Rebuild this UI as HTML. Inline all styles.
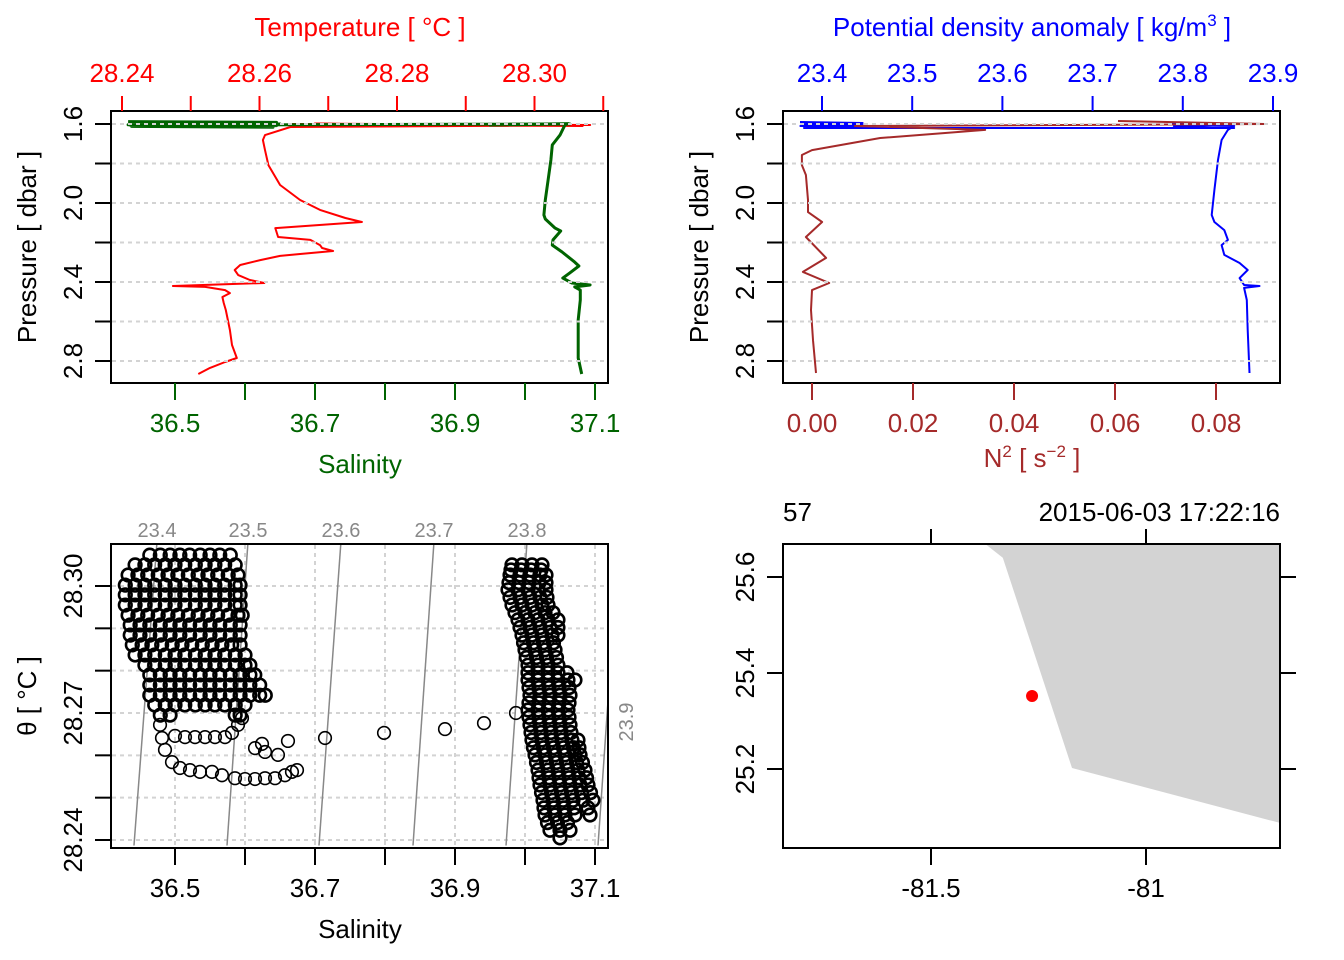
<!DOCTYPE html>
<html><head><meta charset="utf-8"><style>
html,body{margin:0;padding:0;background:#fff;}
svg{display:block;font-family:"Liberation Sans",sans-serif;}
</style></head><body>
<svg id="fig" width="1344" height="960" viewBox="0 0 1344 960" xmlns="http://www.w3.org/2000/svg"></svg>
<script>
// ---------- DATA ----------
const salTicks=[36.5,36.6,36.7,36.8,36.9,37.0,37.1];
const salLabels=["36.5","","36.7","","36.9","","37.1"];
const tempTicks=[28.24,28.25,28.26,28.27,28.28,28.29,28.30,28.31];
const tempLabels=["28.24","","28.26","","28.28","","28.30",""];
const presTicks=[1.6,1.8,2.0,2.2,2.4,2.6,2.8];
const presLabels=["1.6","","2.0","","2.4","","2.8"];
const sigTicks=[23.4,23.5,23.6,23.7,23.8,23.9];
const sigLabels=["23.4","23.5","23.6","23.7","23.8","23.9"];
const n2Ticks=[0,0.02,0.04,0.06,0.08];
const n2Labels=["0.00","0.02","0.04","0.06","0.08"];
const thetaTicks=[28.24,28.25,28.26,28.27,28.28,28.29,28.30];
const thetaLabels=["28.24","","","28.27","","","28.30"];
const lonTicks=[-81.5,-81];
const lonLabels=["-81.5","-81"];
const latTicks=[25.2,25.4,25.6];
const latLabels=["25.2","25.4","25.6"];

const tempT=[28.2645,28.3081,28.268,28.307,28.265,28.305,28.2645,28.2608,28.2605,28.2608,28.2613,28.2630,28.2659,28.2688,28.2725,28.2749,28.2623,28.2627,28.2674,28.2688,28.2691,28.2707,28.2659,28.2630,28.2601,28.2572,28.2564,28.2569,28.2586,28.2607,28.2474,28.2521,28.2550,28.2557,28.2546,28.2548,28.2551,28.2557,28.2560,28.2567,28.2550,28.2528,28.2511];
const tempP=[1.600,1.605,1.598,1.610,1.603,1.607,1.615,1.656,1.681,1.732,1.808,1.909,1.985,2.035,2.076,2.096,2.127,2.172,2.187,2.213,2.228,2.243,2.258,2.268,2.289,2.314,2.339,2.365,2.390,2.405,2.420,2.425,2.441,2.456,2.476,2.506,2.542,2.643,2.719,2.785,2.805,2.835,2.866];
const salS=[36.433,36.645,36.436,36.650,36.433,36.645,36.438,36.640,36.436,37.064,36.95,37.062,37.057,37.050,37.039,37.037,37.033,37.029,37.027,37.029,37.043,37.051,37.040,37.039,37.053,37.071,37.077,37.064,37.054,37.067,37.093,37.071,37.079,37.079,37.076,37.076,37.076,37.081];
const salP=[1.588,1.592,1.596,1.600,1.604,1.608,1.612,1.616,1.606,1.600,1.605,1.598,1.605,1.656,1.706,1.782,1.884,1.985,2.061,2.081,2.127,2.142,2.187,2.213,2.248,2.299,2.319,2.354,2.380,2.405,2.415,2.425,2.441,2.491,2.592,2.694,2.785,2.866];
const sigma=[23.3756,23.445,23.378,23.445,23.376,23.440,23.380,23.857,23.79,23.855,23.785,23.857,23.850,23.843,23.839,23.835,23.832,23.835,23.846,23.850,23.843,23.846,23.863,23.872,23.863,23.868,23.885,23.868,23.871,23.872,23.874];
const sigmaP=[1.590,1.595,1.600,1.605,1.610,1.615,1.620,1.620,1.610,1.600,1.595,1.610,1.630,1.681,1.782,1.934,2.061,2.096,2.137,2.187,2.213,2.263,2.304,2.339,2.380,2.415,2.420,2.430,2.491,2.643,2.861];
const n2=[0.0606,0.0897,0.0085,0.0343,0.0135,0.0,-0.002,-0.002,-0.0012,-0.0008,-0.0008,0.002,-0.0012,0.0028,-0.0018,0.0034,0.0,-0.0002,0.0002,0.0008];
const n2P=[1.585,1.600,1.610,1.630,1.671,1.732,1.757,1.808,1.858,1.985,2.046,2.096,2.172,2.278,2.349,2.405,2.441,2.542,2.694,2.861];

const blobT=[28.3073,28.3050,28.3026,28.3002,28.2979,28.2955,28.2931,28.2908,28.2884,28.2861,28.2837,28.2813,28.2790,28.2766,28.2742,28.2719,28.2695];
const blobS=[
[36.464,36.479,36.493,36.507,36.521,36.536,36.550,36.564,36.579],
[36.443,36.457,36.471,36.486,36.500,36.514,36.529,36.543,36.557,36.571,36.586],
[36.433,36.447,36.461,36.476,36.490,36.504,36.519,36.533,36.547,36.561,36.576,36.590],
[36.429,36.443,36.457,36.471,36.486,36.500,36.514,36.529,36.543,36.557,36.571,36.586,36.593],
[36.429,36.443,36.457,36.471,36.486,36.500,36.514,36.529,36.543,36.557,36.571,36.586,36.593],
[36.429,36.443,36.457,36.471,36.486,36.500,36.514,36.529,36.543,36.557,36.571,36.586,36.593],
[36.433,36.447,36.461,36.476,36.490,36.504,36.519,36.533,36.547,36.561,36.576,36.590,36.596],
[36.436,36.450,36.464,36.479,36.493,36.507,36.521,36.536,36.550,36.564,36.579,36.593],
[36.436,36.450,36.464,36.479,36.493,36.507,36.521,36.536,36.550,36.564,36.579,36.593],
[36.439,36.453,36.467,36.481,36.496,36.510,36.524,36.539,36.553,36.567,36.581,36.593],
[36.443,36.457,36.471,36.486,36.500,36.514,36.529,36.543,36.557,36.571,36.586,36.600],
[36.457,36.471,36.486,36.500,36.514,36.529,36.543,36.557,36.571,36.586,36.600,36.607],
[36.464,36.479,36.493,36.507,36.521,36.536,36.550,36.564,36.579,36.593,36.607,36.614],
[36.464,36.479,36.493,36.507,36.521,36.536,36.550,36.564,36.579,36.593,36.607,36.621],
[36.464,36.479,36.493,36.507,36.521,36.536,36.550,36.564,36.579,36.593,36.607,36.621,36.629],
[36.471,36.486,36.500,36.514,36.529,36.543,36.557,36.571,36.586,36.600],
[36.479,36.493,36.586,36.593]];
const trailS=[36.4786,36.4814,36.4857,36.4957,36.5071,36.5214,36.5357,36.5529,36.5671,36.5857,36.6000,36.6143,36.6286,36.6429,36.6571,36.6671,36.6743,36.5000,36.5143,36.5286,36.5429,36.5571,36.5714,36.5814,36.5900,36.5957,36.6143,36.6243,36.6286,36.6471,36.6614,36.7143,36.7986,36.8857,36.9414,36.9871];
const trailT=[28.2672,28.2641,28.2613,28.2584,28.2570,28.2565,28.2561,28.2561,28.2553,28.2546,28.2544,28.2544,28.2546,28.2546,28.2553,28.2561,28.2565,28.2646,28.2643,28.2643,28.2643,28.2643,28.2643,28.2653,28.2672,28.2688,28.2617,28.2627,28.2608,28.2601,28.2634,28.2641,28.2653,28.2662,28.2676,28.2700];
const stripT=[28.3050,28.3026,28.2991,28.2955,28.2920,28.2884,28.2849,28.2813,28.2778,28.2742,28.2707,28.2672,28.2636,28.2601,28.2565,28.2530,28.2494,28.2459,28.2423,28.2405];
const stripS=[
[36.9814,36.9957,37.0100,37.0243],
[36.9786,36.9929,37.0071,37.0214,37.0300],
[36.9757,36.9900,37.0043,37.0186,37.0300],
[36.9814,36.9957,37.0100,37.0243,37.0329],
[36.9900,37.0043,37.0186,37.0329,37.0471],
[36.9957,37.0100,37.0243,37.0386,37.0471],
[37.0000,37.0143,37.0286,37.0429],
[37.0043,37.0186,37.0329,37.0471],
[37.0043,37.0186,37.0329,37.0471,37.0614,37.0714],
[37.0071,37.0214,37.0357,37.0500,37.0643],
[37.0043,37.0186,37.0329,37.0471,37.0614],
[37.0071,37.0214,37.0357,37.0500,37.0643],
[37.0100,37.0243,37.0386,37.0529,37.0671,37.0757],
[37.0143,37.0286,37.0429,37.0571,37.0714,37.0786],
[37.0186,37.0329,37.0471,37.0614,37.0757,37.0857],
[37.0214,37.0357,37.0500,37.0643,37.0786,37.0900],
[37.0257,37.0400,37.0543,37.0686,37.0829,37.0971],
[37.0286,37.0429,37.0571,37.0714,37.0929],
[37.0357,37.0500,37.0643],
[37.0500]];
const stripMidT=[28.3038,28.3008,28.2973,28.2937,28.2902,28.2866,28.2831,28.2795,28.2760,28.2724,28.2690,28.2654,28.2618,28.2583,28.2547,28.2512,28.2476,28.2441];
const stripMidS=[
[36.9800,36.9943,37.0086,37.0229],
[36.9771,36.9914,37.0057,37.0200,37.0300],
[36.9786,36.9929,37.0071,37.0214,37.0314],
[36.9857,37.0000,37.0143,37.0286,37.0400],
[36.9929,37.0071,37.0214,37.0357,37.0471],
[36.9979,37.0121,37.0264,37.0407],
[37.0021,37.0164,37.0307,37.0450],
[37.0043,37.0186,37.0329,37.0471,37.0600],
[37.0057,37.0200,37.0343,37.0486,37.0629],
[37.0057,37.0200,37.0343,37.0486,37.0629],
[37.0057,37.0200,37.0343,37.0486,37.0629],
[37.0086,37.0229,37.0371,37.0514,37.0657],
[37.0121,37.0264,37.0407,37.0550,37.0693,37.0771],
[37.0164,37.0307,37.0450,37.0593,37.0736,37.0821],
[37.0200,37.0343,37.0486,37.0629,37.0771,37.0879],
[37.0236,37.0379,37.0521,37.0664,37.0807,37.0936],
[37.0271,37.0414,37.0557,37.0700,37.0900],
[37.0321,37.0464,37.0607]];
const isoSigma=["23.4","23.5","23.6","23.7","23.8","23.9"];
const isoSTop=[36.4743,36.6043,36.7371,36.8700,37.0029,37.1343];
const isoSBottom=[36.4414,36.5743,36.7057,36.8400,36.9729,37.1043];

const landLon=[-81.374,-81.333,-81.172,-80.688,-80.688];
const landLat=[25.669,25.640,25.202,25.0875,25.669];
const stationLon=[-81.265];
const stationLat=[25.352];

// ---------- HELPERS ----------
const NS="http://www.w3.org/2000/svg";
const svg=document.getElementById('fig');
const FS=26;
function mk(tag,attrs,parent){const e=document.createElementNS(NS,tag);for(const k in attrs)e.setAttribute(k,attrs[k]);(parent||svg).appendChild(e);return e;}
function lin(d0,d1,r0,r1){return v=>r0+(v-d0)*(r1-r0)/(d1-d0);}
function txt(x,y,s,o,parent){const t=mk('text',Object.assign({x:x,y:y,'font-size':FS,'text-anchor':'middle',fill:'#000'},o||{}),parent);t.textContent=s;return t;}
function clip(id,x,y,w,h){const d=mk('defs',{});const c=mk('clipPath',{id:id},d);mk('rect',{x:x,y:y,width:w,height:h},c);}

const sx=lin(36.5,36.7,175,315);
const tx=lin(28.24,28.26,122,259.5);
const py=lin(1.6,2.8,124,361);
const gx=lin(23.4,23.9,822,1273);
const nx=lin(0,0.08,812,1216);
const thy=lin(28.30,28.27,586,713);
const lonx=lin(-81.5,-81,931,1146);
const laty=lin(25.6,25.4,577,673);

function hgrid(g,x0,x1,ys){ys.forEach(y=>{const l=mk('line',{x1:x0,x2:x1,y1:y,y2:y,stroke:'#d3d3d3','stroke-width':2,'stroke-dasharray':'4,4'},g);});}
function vgrid(g,y0,y1,xs){xs.forEach(x=>{const l=mk('line',{x1:x,x2:x,y1:y0,y2:y1,stroke:'#d3d3d3','stroke-width':2,'stroke-dasharray':'4,4'},g);});}
function path(g,xs,ys,col,name,clipId){let d='';for(let i=0;i<xs.length;i++)d+=(i?'L':'M')+xs[i].toFixed(1)+','+ys[i].toFixed(1);const p=mk('path',{d:d,fill:'none',stroke:col,'stroke-width':2,'stroke-linejoin':'round','clip-path':'url(#'+clipId+')'},g);return p;}
function bottomAxis(g,vals,labels,f,y,col,name){const a=mk('g',{},g);vals.forEach((v,i)=>{const x=f(v);mk('line',{x1:x,x2:x,y1:y,y2:y+17,stroke:col,'stroke-width':2},a);if(labels[i])txt(x,y+49,labels[i],{fill:col},a);});}
function topAxis(g,vals,labels,f,y,col,name){const a=mk('g',{},g);vals.forEach((v,i)=>{const x=f(v);mk('line',{x1:x,x2:x,y1:y,y2:y-15,stroke:col,'stroke-width':2},a);if(labels[i])txt(x,y-29,labels[i],{fill:col},a);});}
function leftAxis(g,vals,labels,f,x,name){const a=mk('g',{},g);vals.forEach((v,i)=>{const y=f(v);mk('line',{x1:x,x2:x-16,y1:y,y2:y,stroke:'#000','stroke-width':2},a);if(labels[i])txt(x-29,y,labels[i],{transform:'rotate(-90 '+(x-29)+' '+y+')'},a);});}
function box(g,x,y,w,h){const r=mk('rect',{x:x,y:y,width:w,height:h,fill:'none',stroke:'#000','stroke-width':2},g);}

clip('c1',112,112,495,270);clip('c2',784,112,495,270);clip('c3',112,545,495,302);clip('c4',784,545,495,302);

// ---------- PANEL 1 ----------
const g1=mk('g',{});
path(g1,tempT.map(tx),tempP.map(py),'#ff0000','temperature-profile','c1');
const sp=path(g1,salS.map(sx),salP.map(py),'#006400','salinity-profile','c1');sp.setAttribute('stroke-width',3);
hgrid(g1,112,607,presTicks.map(py));
box(g1,111,111,497,272);
topAxis(g1,tempTicks,tempLabels,tx,111,'#ff0000','temperature-axis');
bottomAxis(g1,salTicks,salLabels,sx,383,'#006400','salinity-axis');
leftAxis(g1,presTicks,presLabels,py,111,'pressure-axis');
let t;
t=txt(360,36,'Temperature [ °C ]',{fill:'#ff0000'},g1);
t=txt(360,473,'Salinity',{fill:'#006400'},g1);
t=txt(36,247,'Pressure [ dbar ]',{transform:'rotate(-90 36 247)'},g1);

// ---------- PANEL 2 ----------
const g2=mk('g',{});
path(g2,sigma.map(gx),sigmaP.map(py),'#0000ff','density-profile','c2');
path(g2,n2.map(nx),n2P.map(py),'#a52a2a','n2-profile','c2');
hgrid(g2,784,1279,presTicks.map(py));
box(g2,783,111,497,272);
topAxis(g2,sigTicks,sigLabels,gx,111,'#0000ff','density-axis');
bottomAxis(g2,n2Ticks,n2Labels,nx,383,'#a52a2a','n2-axis');
leftAxis(g2,presTicks,presLabels,py,783,'pressure-axis-2');
t=mk('text',{x:1032,y:36,'font-size':FS,'text-anchor':'middle',fill:'#0000ff'},g2);
t.innerHTML='Potential density anomaly [ kg/m<tspan dy="-10" font-size="17">3</tspan><tspan dy="10"> ]</tspan>';

t=mk('text',{x:1032,y:467,'font-size':FS,'text-anchor':'middle',fill:'#a52a2a'},g2);
t.innerHTML='N<tspan dy="-10" font-size="17">2</tspan><tspan dy="10"> [ s</tspan><tspan dy="-10" font-size="17">−2</tspan><tspan dy="10"> ]</tspan>';

t=txt(708,247,'Pressure [ dbar ]',{transform:'rotate(-90 708 247)'},g2);

// ---------- PANEL 3 ----------
const g3=mk('g',{});
vgrid(g3,545,847,salTicks.map(sx));
hgrid(g3,112,607,thetaTicks.map(thy));
const T_TOP=28.3105, T_BOT=28.2387;
isoSigma.forEach((s,i)=>{
  const l=mk('line',{x1:sx(isoSTop[i]),y1:thy(T_TOP),x2:sx(isoSBottom[i]),y2:thy(T_BOT),stroke:'#888','stroke-width':1.5,'clip-path':'url(#c3)'},g3);
  
  let lb;
  if(i<5){lb=txt(sx(isoSTop[i]),537,s,{'font-size':20,fill:'#888'},g3);}
  else{lb=txt(633,722,s,{'font-size':20,fill:'#888',transform:'rotate(-90 633 722)'},g3);}
  
});
const pts=mk('g',{fill:'none',stroke:'#000','stroke-width':2.6,'clip-path':'url(#c3)'},g3);

function dot(s,T){const c=mk('circle',{cx:sx(s),cy:thy(T),r:6.3},pts);}
blobT.forEach((T,i)=>blobS[i].forEach(s=>dot(s,T)));
stripT.forEach((T,i)=>stripS[i].forEach(s=>dot(s,T)));
stripMidT.forEach((T,i)=>stripMidS[i].forEach(s=>dot(s,T)));
const trail=mk('g',{fill:'none',stroke:'#000','stroke-width':1.6,'clip-path':'url(#c3)'},g3);

trailS.forEach((s,i)=>{const c=mk('circle',{cx:sx(s),cy:thy(trailT[i]),r:6.3},trail);});
box(g3,111,544,497,304);
bottomAxis(g3,salTicks,salLabels,sx,848,'#000','salinity-axis-2');
leftAxis(g3,thetaTicks,thetaLabels,thy,111,'theta-axis');
t=txt(360,938,'Salinity',{},g3);
t=txt(36,696,'θ [ °C ]',{transform:'rotate(-90 36 696)'},g3);

// ---------- PANEL 4 ----------
const g4=mk('g',{});
const land=mk('polygon',{points:landLon.map((v,i)=>lonx(v).toFixed(1)+','+laty(landLat[i]).toFixed(1)).join(' '),fill:'#d3d3d3',stroke:'none','clip-path':'url(#c4)'},g4);

stationLon.forEach((v,i)=>{const c=mk('circle',{cx:lonx(v),cy:laty(stationLat[i]),r:6,fill:'#ff0000'},g4);});
box(g4,783,544,497,304);
bottomAxis(g4,lonTicks,lonLabels,lonx,848,'#000','longitude-axis');
topAxis(g4,lonTicks,["",""],lonx,544,'#000','longitude-axis-top');
leftAxis(g4,latTicks,latLabels,laty,783,'latitude-axis');
const ra=mk('g',{},g4);
latTicks.forEach(v=>mk('line',{x1:1280,x2:1296,y1:laty(v),y2:laty(v),stroke:'#000','stroke-width':2},ra));
t=txt(783,521,'57',{'text-anchor':'start'},g4);
t=txt(1280,521,'2015-06-03 17:22:16',{'text-anchor':'end'},g4);
</script>
</body></html>
